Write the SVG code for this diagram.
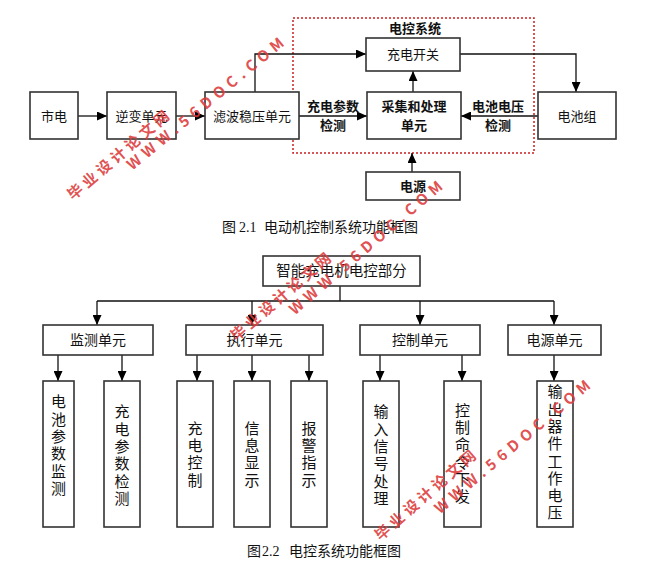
<svg xmlns="http://www.w3.org/2000/svg" width="650" height="563" viewBox="0 0 650 563">
<defs>
<marker id="arr" markerUnits="userSpaceOnUse" markerWidth="10" markerHeight="9" refX="10" refY="4.5" orient="auto">
<path d="M0,0 L10,4.5 L0,9 z" fill="#000"/>
</marker>
<style>
.box{fill:#fff;stroke:#333;stroke-width:1.6}
.t{font-family:"Noto Sans CJK SC","Liberation Sans",sans-serif;font-size:13px;fill:#111;text-anchor:middle}
.b{font-weight:bold}
.t2{font-family:"Noto Sans CJK SC","Liberation Sans",sans-serif;font-size:14px;fill:#111;text-anchor:middle}
.v{font-family:"Noto Sans CJK SC","Liberation Sans",sans-serif;font-size:15px;fill:#111;writing-mode:vertical-rl}
.cap{font-family:"Liberation Serif","Noto Sans CJK SC",serif;font-size:14px;fill:#111}
.c{fill:none;stroke:#111;stroke-width:1.3}
.ca{fill:none;stroke:#111;stroke-width:1.3;marker-end:url(#arr)}
.wm{font-family:"Noto Sans CJK SC","Liberation Sans",sans-serif;font-size:15px;font-weight:bold;fill:#dd3b3b;fill-opacity:0.9;text-anchor:middle}
</style>
</defs>
<rect width="650" height="563" fill="#fff"/>

<!-- Diagram 1 -->
<g id="ecs-frame">
<rect x="293" y="18" width="241" height="135" fill="none" stroke="#cc1f1f" stroke-width="1.5" stroke-dasharray="2,2"/>
<text class="t b" x="415" y="33">电控系统</text>
</g>
<g id="connectors1">
<path class="ca" d="M78,116 L107,116"/>
<path class="ca" d="M176,116 L205,116"/>
<path class="ca" d="M255,92 L255,54 L366,54"/>
<path class="ca" d="M299,116 L367,116"/>
<path class="ca" d="M413,92 L413,71"/>
<path class="ca" d="M460,54 L576,54 L576,92"/>
<path class="ca" d="M538,116 L461,116"/>
<path class="ca" d="M412,172 L412,153"/>
<text class="t b" x="333" y="111">充电参数</text>
<text class="t b" x="333" y="130">检测</text>
<text class="t b" x="498" y="111">电池电压</text>
<text class="t b" x="498" y="130">检测</text>
</g>
<g id="n-mains"><rect class="box" x="30" y="92" width="48" height="47"/><text class="t" x="54" y="121">市电</text></g>
<g id="n-inverter"><rect class="box" x="107" y="92" width="69" height="47"/><text class="t" x="141.5" y="121">逆变单元</text></g>
<g id="n-filter"><rect class="box" x="205" y="92" width="94" height="47"/><text class="t" x="252" y="121">滤波稳压单元</text></g>
<g id="n-switch"><rect class="box" x="366" y="38" width="94" height="33"/><text class="t" x="413" y="59">充电开关</text></g>
<g id="n-acq"><rect class="box" x="367" y="92" width="94" height="47"/><text class="t b" x="414" y="111">采集和处理</text><text class="t b" x="414" y="130">单元</text></g>
<g id="n-battery"><rect class="box" x="538" y="92" width="78" height="47"/><text class="t" x="577" y="121">电池组</text></g>
<g id="n-power"><rect class="box" x="366" y="172" width="94" height="28"/><text class="t b" x="413" y="191">电源</text></g>
<text class="cap" y="232"><tspan x="222">图</tspan><tspan x="239">2.1</tspan><tspan x="264">电动机控制系统功能框图</tspan></text>

<!-- Diagram 2 -->
<g id="connectors2">
<path class="c" d="M340,286 L340,301 M97,301 L554,301"/>
<path class="ca" d="M97,301 L97,325"/>
<path class="ca" d="M252,301 L252,325"/>
<path class="ca" d="M420,301 L420,325"/>
<path class="ca" d="M554,301 L554,325"/>
<path class="ca" d="M58,355 L58,381"/>
<path class="ca" d="M122,355 L122,381"/>
<path class="ca" d="M197,355 L197,381"/>
<path class="ca" d="M252,355 L252,381"/>
<path class="ca" d="M309,355 L309,381"/>
<path class="ca" d="M380,355 L380,381"/>
<path class="ca" d="M462,355 L462,381"/>
<path class="ca" d="M554,355 L554,381"/>
</g>
<g id="m-root"><rect class="box" x="263" y="256" width="157" height="30"/><text class="t2" x="341.5" y="276" style="font-size:14.5px">智能充电机电控部分</text></g>
<g id="m-monitor"><rect class="box" x="43" y="325" width="110" height="30"/><text class="t2" x="98" y="345">监测单元</text></g>
<g id="m-exec"><rect class="box" x="186" y="325" width="137" height="30"/><text class="t2" x="254.5" y="345">执行单元</text></g>
<g id="m-ctrl"><rect class="box" x="360" y="325" width="120" height="30"/><text class="t2" x="420" y="345">控制单元</text></g>
<g id="m-psu"><rect class="box" x="508" y="325" width="93" height="30"/><text class="t2" x="554.5" y="345">电源单元</text></g>

<g id="l-batmon"><rect class="box" x="43" y="381" width="31" height="146"/>
<text class="v" x="58.5" y="394.2">电</text><text class="v" x="58.5" y="411.5">池</text><text class="v" x="58.5" y="428.8">参</text><text class="v" x="58.5" y="446.1">数</text><text class="v" x="58.5" y="463.4">监</text><text class="v" x="58.5" y="480.7">测</text></g>
<g id="l-chgdet"><rect class="box" x="104" y="381" width="36" height="146"/>
<text class="v" x="122" y="404.2">充</text><text class="v" x="122" y="421.5">电</text><text class="v" x="122" y="438.8">参</text><text class="v" x="122" y="456.1">数</text><text class="v" x="122" y="473.4">检</text><text class="v" x="122" y="490.7">测</text></g>
<g id="l-chgctl"><rect class="box" x="177" y="381" width="36" height="146"/>
<text class="v" x="195" y="420.5">充</text><text class="v" x="195" y="437.8">电</text><text class="v" x="195" y="455.1">控</text><text class="v" x="195" y="472.4">制</text></g>
<g id="l-info"><rect class="box" x="234" y="381" width="36" height="146"/>
<text class="v" x="252" y="420.5">信</text><text class="v" x="252" y="437.8">息</text><text class="v" x="252" y="455.1">显</text><text class="v" x="252" y="472.4">示</text></g>
<g id="l-alarm"><rect class="box" x="291" y="381" width="36" height="146"/>
<text class="v" x="309" y="420.5">报</text><text class="v" x="309" y="437.8">警</text><text class="v" x="309" y="455.1">指</text><text class="v" x="309" y="472.4">示</text></g>
<g id="l-input"><rect class="box" x="363" y="381" width="36" height="146"/>
<text class="v" x="381" y="404.2">输</text><text class="v" x="381" y="421.5">入</text><text class="v" x="381" y="438.8">信</text><text class="v" x="381" y="456.1">号</text><text class="v" x="381" y="473.4">处</text><text class="v" x="381" y="490.7">理</text></g>
<g id="l-cmd"><rect class="box" x="444" y="381" width="37" height="146"/>
<text class="v" x="462.5" y="402.5">控</text><text class="v" x="462.5" y="419.8">制</text><text class="v" x="462.5" y="437.1">命</text><text class="v" x="462.5" y="454.4">令</text><text class="v" x="462.5" y="471.7">下</text><text class="v" x="462.5" y="489">发</text></g>
<g id="l-volt"><rect class="box" x="537" y="381" width="36" height="146"/>
<text class="v" x="555" y="384.2">输</text><text class="v" x="555" y="401.5">出</text><text class="v" x="555" y="418.8">器</text><text class="v" x="555" y="436.1">件</text><text class="v" x="555" y="453.4">工</text><text class="v" x="555" y="470.7">作</text><text class="v" x="555" y="488">电</text><text class="v" x="555" y="505.3">压</text></g>
<text class="cap" y="556"><tspan x="247">图</tspan><tspan x="262">2.2</tspan><tspan x="289">电控系统功能框图</tspan></text>

<!-- watermarks -->
<g id="watermarks">
<text class="wm" transform="translate(118.5,155.5) rotate(-40.5)" y="5" textLength="128" lengthAdjust="spacing">毕业设计论文网</text>
<text class="wm" transform="translate(205.5,104) rotate(-39.5)" y="5" textLength="198" lengthAdjust="spacing">WWW.56DOC.COM</text>
<text class="wm" transform="translate(281,297) rotate(-40.5)" y="5" textLength="126" lengthAdjust="spacing">毕业设计论文网</text>
<text class="wm" transform="translate(366,248) rotate(-40.5)" y="5" textLength="196" lengthAdjust="spacing">WWW.56DOC.COM</text>
<text class="wm" transform="translate(425.5,495.5) rotate(-41)" y="5" textLength="128" lengthAdjust="spacing">毕业设计论文网</text>
<text class="wm" transform="translate(512.5,447) rotate(-40)" y="5" textLength="198" lengthAdjust="spacing">WWW.56DOC.COM</text>
</g>
</svg>
